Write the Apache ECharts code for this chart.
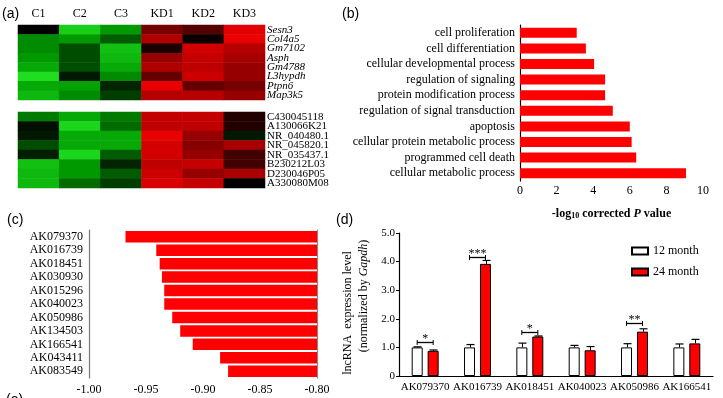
<!DOCTYPE html>
<html>
<head>
<meta charset="utf-8">
<script src="https://cdn.jsdelivr.net/npm/echarts@6/dist/echarts.min.js"></script>
<style>
html,body{margin:0;padding:0;background:#fff}
#main{width:723px;height:398px}
</style>
</head>
<body>
<div id="main"></div>
<script>
// (a) heatmap, values scaled -1 (green) .. 0 (black) .. 1 (red)
var heatCols = ['C1', 'C2', 'C3', 'KD1', 'KD2', 'KD3'];
var genesTop = ['Sesn3', 'Col4a5', 'Gm7102', 'Asph', 'Gm4788', 'L3hypdh', 'Ptpn6', 'Map3k5'];
var heatTop = [
  [0, -0.85, -0.5, 0.35, 0.25, 0.9],
  [-0.45, -0.5, -0.3, 0.55, 0.03, 0.95],
  [-0.45, -0.25, -0.75, 0.08, 0.8, 0.6],
  [-0.5, -0.25, -0.7, 0.45, 0.7, 0.5],
  [-0.6, -0.25, -0.6, 0.55, 0.65, 0.45],
  [-0.95, -0.08, -0.45, 0.3, 0.75, 0.45],
  [-0.6, -0.55, -0.12, 0.95, 0.3, 0.35],
  [-0.7, -0.45, -0.2, 0.6, 0.6, 0.45]
];
var genesBottom = ['C430045118', 'A130066K21', 'NR_040480.1', 'NR_045820.1', 'NR_035437.1', 'B230212L03', 'D230046P05', 'A330080M08'];
var heatBottom = [
  [-0.4, -0.6, -0.4, 0.7, 0.7, 0.1],
  [-0.05, -0.9, -0.35, 0.65, 0.65, 0.1],
  [-0.08, -0.6, -0.6, 0.95, 0.45, -0.08],
  [-0.25, -0.6, -0.6, 0.8, 0.4, 0.5],
  [-0.1, -0.9, -0.3, 0.8, 0.45, 0.2],
  [-0.75, -0.5, -0.12, 0.65, 0.7, 0.2],
  [-0.7, -0.5, -0.3, 0.75, 0.45, 0.5],
  [-0.7, -0.35, -0.2, 0.85, 0.7, 0]
];

// (b) GO terms
var goTerms = ['cell proliferation', 'cell differentiation', 'cellular developmental process',
  'regulation of signaling', 'protein modification process', 'regulation of signal transduction',
  'apoptosis', 'cellular protein metabolic process', 'programmed cell death', 'cellular metabolic process'];
var goValues = [3.1, 3.6, 4.05, 4.65, 4.65, 5.07, 6.0, 6.1, 6.35, 9.07];

// (c) correlation
var corrGenes = ['AK079370', 'AK016739', 'AK018451', 'AK030930', 'AK015296', 'AK040023',
  'AK050986', 'AK134503', 'AK166541', 'AK043411', 'AK083549'];
var corrValues = [-0.968, -0.941, -0.938, -0.936, -0.934, -0.934, -0.927, -0.92, -0.909, -0.885, -0.878];

// (d) qPCR
var qGenes = ['AK079370', 'AK016739', 'AK018451', 'AK040023', 'AK050986', 'AK166541'];
var m12 = [1.0, 1.0, 1.0, 1.0, 1.0, 1.0];
var m12err = [0.02, 0.1, 0.15, 0.07, 0.13, 0.12];
var m24 = [0.88, 3.92, 1.38, 0.9, 1.55, 1.14];
var m24err = [0.03, 0.12, 0.02, 0.13, 0.1, 0.14];
var sigIdx = [0, 1, 2, 4];
var sigY = [1.19, 4.17, 1.54, 1.84];
var sigStars = ['*', '***', '*', '**'];

var SERIF = 'Liberation Serif';
var chart = echarts.init(document.getElementById('main'));

function toCells(mat) {
  var out = [];
  mat.forEach(function (row, r) {
    row.forEach(function (v, c) { out.push([c, r, v]); });
  });
  return out;
}

function errRender(offset) {
  return function (params, api) {
    var i = api.value(0), v = api.value(1), e = api.value(2);
    var p0 = api.coord([i, v]);
    var p1 = api.coord([i, v + e]);
    var x = Math.round(p0[0] + offset) + 0.5;
    return {
      type: 'group',
      children: [
        { type: 'line', shape: { x1: x, y1: p0[1], x2: x, y2: p1[1] }, style: { stroke: '#000', lineWidth: 1 } },
        { type: 'line', shape: { x1: x - 4, y1: p1[1], x2: x + 4, y2: p1[1] }, style: { stroke: '#000', lineWidth: 1.2 } }
      ]
    };
  };
}

function sigRender(params, api) {
  var p = api.coord([api.value(0), api.value(1)]);
  var l = p[0] - 8, r = p[0] + 8, y = Math.round(p[1]) + 0.5;
  return {
    type: 'group',
    children: [
      { type: 'line', shape: { x1: l, y1: y, x2: r, y2: y }, style: { stroke: '#000', lineWidth: 1.3 } },
      { type: 'line', shape: { x1: l, y1: y - 2.5, x2: l, y2: y + 2.5 }, style: { stroke: '#000', lineWidth: 1 } },
      { type: 'line', shape: { x1: r, y1: y - 2.5, x2: r, y2: y + 2.5 }, style: { stroke: '#000', lineWidth: 1 } },
      { type: 'text', x: p[0], y: y - 4, style: { text: sigStars[params.dataIndex], textAlign: 'center', textVerticalAlign: 'middle', font: '12px ' + SERIF, fill: '#000' } }
    ]
  };
}

var noAxis = { axisLine: { show: false }, axisTick: { show: false }, splitLine: { show: false } };

var option = {
  animation: false,
  backgroundColor: '#fff',
  textStyle: { fontFamily: SERIF, color: '#000' },
  grid: [
    { left: 18, top: 25, width: 247, height: 75, outerBoundsMode: 'none' },
    { left: 18, top: 112, width: 247, height: 76, outerBoundsMode: 'none' },
    { left: 520, top: 25, width: 183, height: 156, outerBoundsMode: 'none' },
    { left: 89, top: 230, width: 228, height: 148, outerBoundsMode: 'none' },
    { left: 399, top: 233, width: 314, height: 143, outerBoundsMode: 'none' }
  ],
  visualMap: {
    show: false, seriesIndex: [0, 1], min: -1, max: 1,
    inRange: { color: ['#22e622', '#009a00', '#000000', '#a80000', '#f00000'] }
  },
  legend: {
    data: ['12 month', '24 month'],
    orient: 'vertical', left: 626, top: 240, itemGap: 9,
    icon: 'rect', itemWidth: 16, itemHeight: 7,
    textStyle: { fontFamily: SERIF, fontSize: 12, color: '#000' }
  },
  xAxis: [
    Object.assign({ type: 'category', gridIndex: 0, data: heatCols, position: 'top',
      axisLabel: { interval: 0, margin: 5, fontFamily: SERIF, fontSize: 12, color: '#000' } }, noAxis),
    Object.assign({ type: 'category', gridIndex: 1, data: heatCols, axisLabel: { show: false } }, noAxis),
    {
      type: 'value', gridIndex: 2, min: 0, max: 10, interval: 2,
      name: '{b|-log}{s|10}{b| corrected }{i|P}{b| value}',
      nameLocation: 'middle', nameGap: 26,
      nameTextStyle: { rich: {
        b: { fontFamily: SERIF, fontSize: 12, fontWeight: 'bold', color: '#000' },
        s: { fontFamily: SERIF, fontSize: 8, fontWeight: 'bold', color: '#000', verticalAlign: 'bottom', padding: [5, 0, 0, 0] },
        i: { fontFamily: SERIF, fontSize: 12, fontWeight: 'bold', fontStyle: 'italic', color: '#000' }
      } },
      axisLine: { lineStyle: { color: '#000', width: 1.2 } },
      axisTick: { length: 4, lineStyle: { color: '#000' } },
      axisLabel: { margin: 4, fontFamily: SERIF, fontSize: 12, color: '#000' },
      splitLine: { show: false }
    },
    {
      type: 'value', gridIndex: 3, min: -1, max: -0.8, interval: 0.05,
      axisLine: { lineStyle: { color: '#666', width: 1.2 } },
      axisTick: { length: 4, lineStyle: { color: '#666' } },
      axisLabel: { margin: 6, fontFamily: SERIF, fontSize: 12, color: '#000',
        formatter: function (v) { return v.toFixed(2); } },
      splitLine: { show: false }
    },
    {
      type: 'category', gridIndex: 4, data: qGenes,
      axisLine: { lineStyle: { color: '#000', width: 1.2 } },
      axisTick: { show: false },
      axisLabel: { interval: 0, margin: 6, fontFamily: SERIF, fontSize: 11, color: '#000' }
    }
  ],
  yAxis: [
    Object.assign({ type: 'category', gridIndex: 0, data: genesTop, inverse: true, position: 'right',
      axisLabel: { interval: 0, margin: 2, fontFamily: SERIF, fontSize: 11, fontStyle: 'italic', color: '#000' } }, noAxis),
    Object.assign({ type: 'category', gridIndex: 1, data: genesBottom, inverse: true, position: 'right',
      axisLabel: { interval: 0, margin: 2, fontFamily: SERIF, fontSize: 11, color: '#000' } }, noAxis),
    {
      type: 'category', gridIndex: 2, data: goTerms, inverse: true,
      axisLine: { lineStyle: { color: '#000', width: 1.2 } },
      axisTick: { length: 3, alignWithLabel: true, lineStyle: { color: '#000' } },
      axisLabel: { interval: 0, margin: 5, fontFamily: SERIF, fontSize: 12, color: '#000' }
    },
    {
      type: 'category', gridIndex: 3, data: corrGenes, inverse: true, position: 'left',
      axisLine: { lineStyle: { color: '#777', width: 1.2 } },
      axisTick: { length: 4, alignWithLabel: true, lineStyle: { color: '#555' } },
      axisLabel: { interval: 0, margin: 6, fontFamily: SERIF, fontSize: 12, color: '#000' }
    },
    {
      type: 'category', gridIndex: 3, data: corrGenes, inverse: true, position: 'right',
      axisLine: { lineStyle: { color: '#888', width: 1.2 } },
      axisTick: { show: false }, axisLabel: { show: false }
    },
    {
      type: 'value', gridIndex: 4, min: 0, max: 5, interval: 1,
      axisLine: { show: true, lineStyle: { color: '#000', width: 1.2 } },
      axisTick: { show: true, length: 3, lineStyle: { color: '#000' } },
      axisLabel: { margin: 4, fontFamily: SERIF, fontSize: 11, color: '#000',
        formatter: function (v) { return v === 0 ? '0' : v.toFixed(1); } },
      splitLine: { show: false }
    }
  ],
  series: [
    { type: 'heatmap', xAxisIndex: 0, yAxisIndex: 0, data: toCells(heatTop) },
    { type: 'heatmap', xAxisIndex: 1, yAxisIndex: 1, data: toCells(heatBottom) },
    {
      type: 'bar', xAxisIndex: 2, yAxisIndex: 2, data: goValues, barWidth: 10,
      itemStyle: { color: '#ff0000' }
    },
    {
      type: 'bar', xAxisIndex: 3, yAxisIndex: 3, data: corrValues, barWidth: 11.5, clip: true,
      itemStyle: { color: '#ff0000' }
    },
    {
      name: '12 month', type: 'bar', xAxisIndex: 4, yAxisIndex: 5, data: m12,
      barWidth: 11, barGap: '45%',
      itemStyle: { color: '#fff', borderColor: '#000', borderWidth: 1 }
    },
    {
      name: '24 month', type: 'bar', xAxisIndex: 4, yAxisIndex: 5, data: m24,
      barWidth: 11, barGap: '45%',
      itemStyle: { color: '#f00', borderColor: '#000', borderWidth: 1 }
    },
    {
      type: 'custom', xAxisIndex: 4, yAxisIndex: 5, renderItem: errRender(-8), z: 5,
      data: m12.map(function (v, i) { return [i, v, m12err[i]]; })
    },
    {
      type: 'custom', xAxisIndex: 4, yAxisIndex: 5, renderItem: errRender(8), z: 5,
      data: m24.map(function (v, i) { return [i, v, m24err[i]]; })
    },
    {
      type: 'custom', xAxisIndex: 4, yAxisIndex: 5, renderItem: sigRender, z: 5,
      data: sigIdx.map(function (c, k) { return [c, sigY[k]]; })
    }
  ],
  graphic: [
    { type: 'text', left: 2, top: 7, style: { text: '(a)', font: '14px Liberation Sans', fill: '#000' } },
    { type: 'text', left: 342, top: 7, style: { text: '(b)', font: '14px Liberation Sans', fill: '#000' } },
    { type: 'text', left: 7, top: 213, style: { text: '(c)', font: '14px Liberation Sans', fill: '#000' } },
    { type: 'text', left: 336, top: 213, style: { text: '(d)', font: '14px Liberation Sans', fill: '#000' } },
    { type: 'text', left: 6, top: 393, style: { text: '(e)', font: '14px Liberation Sans', fill: '#000' } },
    {
      type: 'text', x: 348, y: 313, rotation: Math.PI / 2,
      style: { text: 'lncRNA  expression level', textAlign: 'center', textVerticalAlign: 'middle',
        font: '12px ' + SERIF, fill: '#000' }
    },
    {
      type: 'text', x: 364, y: 296, rotation: Math.PI / 2,
      style: {
        text: '{n|(normalized by }{i|Gapdh}{n|)}', textAlign: 'center', textVerticalAlign: 'middle',
        rich: {
          n: { fontFamily: SERIF, fontSize: 12, fill: '#000' },
          i: { fontFamily: SERIF, fontSize: 12, fontStyle: 'italic', fill: '#000' }
        }
      }
    }
  ]
};

chart.setOption(option);
</script>
</body>
</html>
